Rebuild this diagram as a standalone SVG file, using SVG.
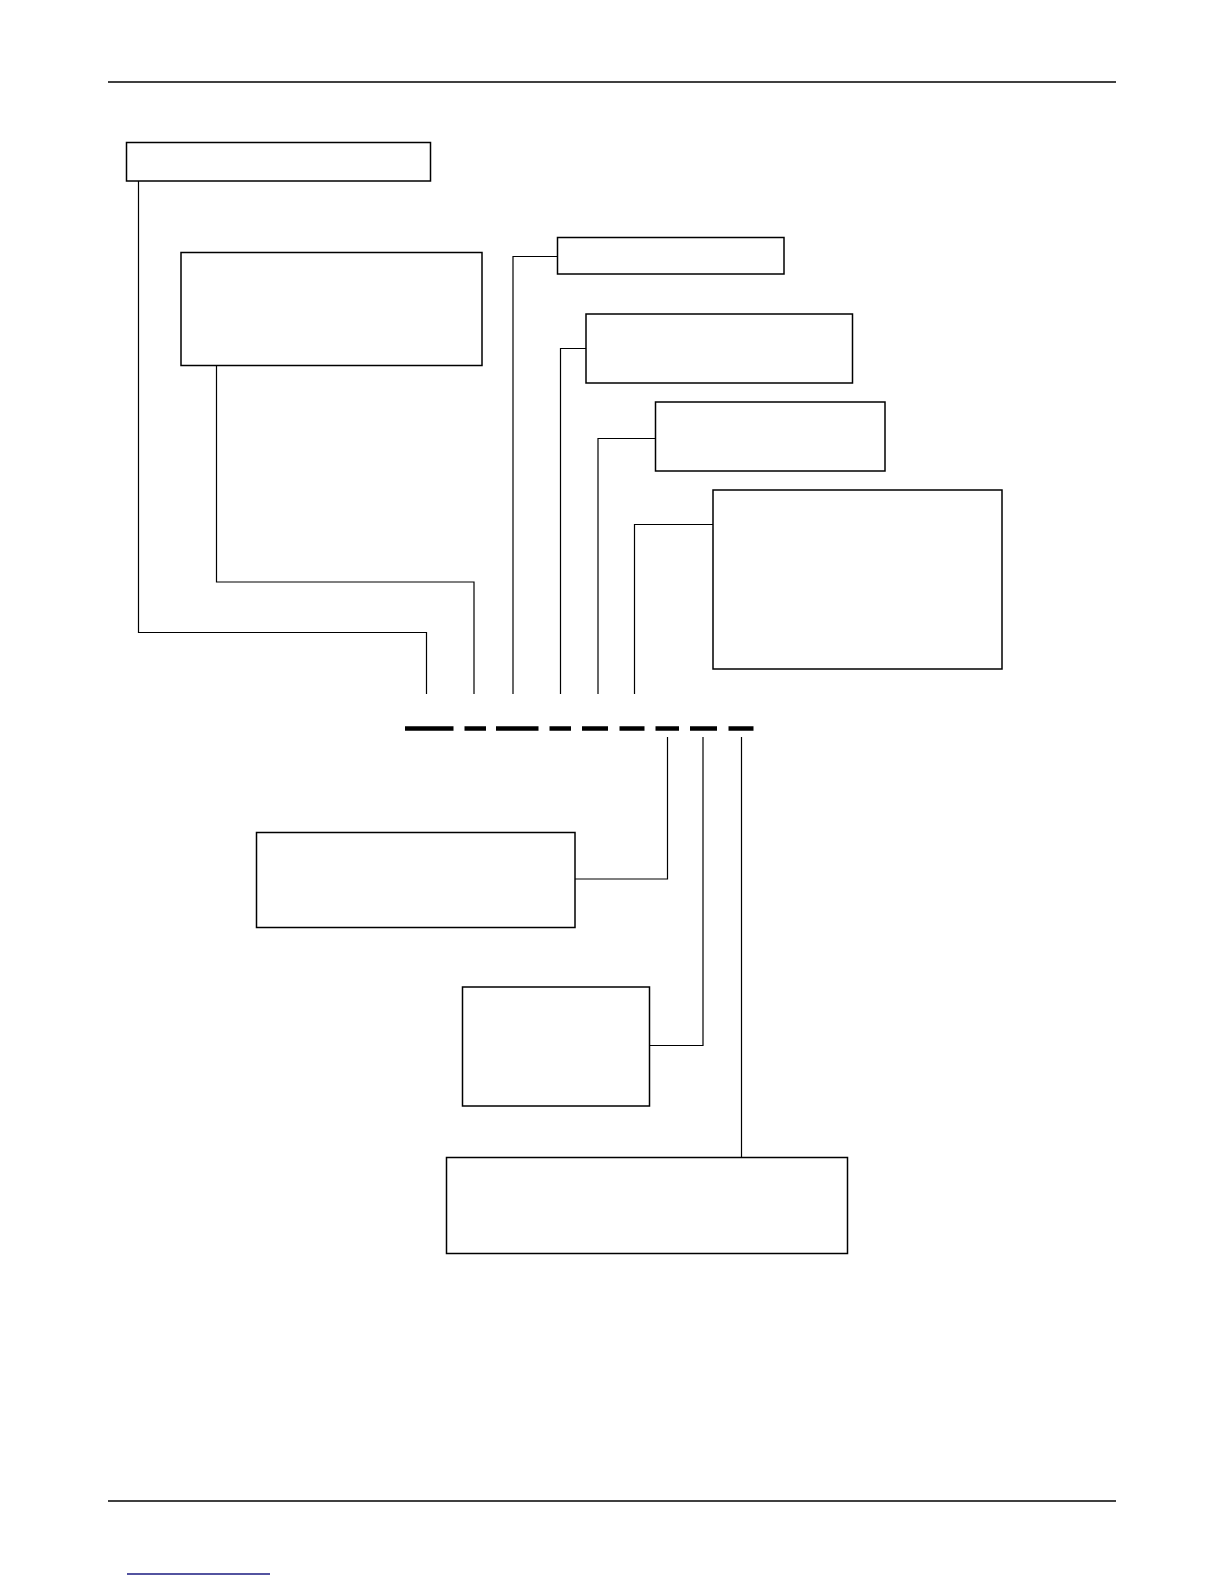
<svg xmlns="http://www.w3.org/2000/svg" width="1224" height="1584" viewBox="0 0 1224 1584">
<style>
.box{fill:#fff;stroke:#000;stroke-width:1.5}
.con{fill:none;stroke:#000;stroke-width:1.2}
.rule{stroke:#000;stroke-width:1.3}
.dash{stroke:#000;stroke-width:4.5}
</style>
<rect width="1224" height="1584" fill="#fff"/>
<line class="rule" x1="108" y1="82" x2="1116" y2="82"/>
<line class="rule" x1="108" y1="1501" x2="1116" y2="1501"/>
<line x1="127" y1="1574" x2="270" y2="1574" stroke="#1a1a80" stroke-width="1.3"/>
<g id="connectors">
<polyline class="con" points="138.5,181 138.5,632.5 426.5,632.5 426.5,694"/>
<polyline class="con" points="216.5,366 216.5,582 474,582 474,694"/>
<polyline class="con" points="557.5,256.5 513,256.5 513,694"/>
<polyline class="con" points="586,348.5 560.5,348.5 560.5,694"/>
<polyline class="con" points="655.5,438.5 598,438.5 598,694"/>
<polyline class="con" points="713,524.5 634.5,524.5 634.5,694"/>
<polyline class="con" points="667.5,737 667.5,879 575,879"/>
<polyline class="con" points="703,737 703,1045.5 649.5,1045.5"/>
<polyline class="con" points="741.5,737 741.5,1157.5"/>
</g>
<g id="code">
<line class="dash" x1="405" y1="728.5" x2="453.5" y2="728.5"/>
<line class="dash" x1="464.5" y1="728.5" x2="486" y2="728.5"/>
<line class="dash" x1="496" y1="728.5" x2="538.5" y2="728.5"/>
<line class="dash" x1="549.5" y1="728.5" x2="571" y2="728.5"/>
<line class="dash" x1="582" y1="728.5" x2="608" y2="728.5"/>
<line class="dash" x1="619.5" y1="728.5" x2="644.5" y2="728.5"/>
<line class="dash" x1="655.5" y1="728.5" x2="679" y2="728.5"/>
<line class="dash" x1="690" y1="728.5" x2="717" y2="728.5"/>
<line class="dash" x1="728.5" y1="728.5" x2="753.5" y2="728.5"/>
</g>
<g id="n1"><rect class="box" x="126.5" y="142.5" width="304" height="38.5"/></g>
<g id="n2"><rect class="box" x="181" y="252.5" width="301" height="113"/></g>
<g id="n3"><rect class="box" x="557.5" y="237.5" width="226.5" height="36.5"/></g>
<g id="n4"><rect class="box" x="586" y="314" width="266.5" height="69"/></g>
<g id="n5"><rect class="box" x="655.5" y="402" width="229.5" height="69"/></g>
<g id="n6"><rect class="box" x="713" y="490" width="289" height="179"/></g>
<g id="n7"><rect class="box" x="256.5" y="832.5" width="318.5" height="95"/></g>
<g id="n8"><rect class="box" x="462.5" y="987" width="187" height="119"/></g>
<g id="n9"><rect class="box" x="446.5" y="1157.5" width="401" height="96"/></g>
</svg>
